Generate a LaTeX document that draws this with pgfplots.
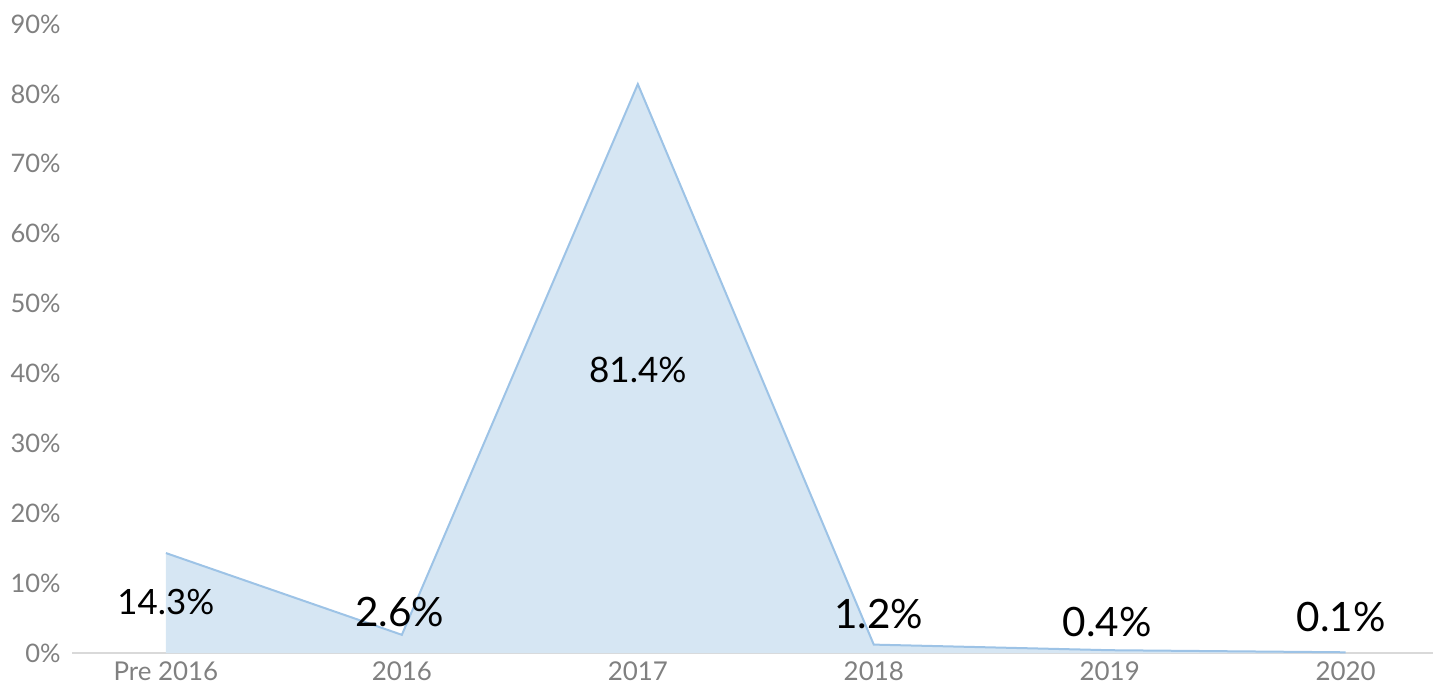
\documentclass[border=0pt]{standalone}
\usepackage{pgfplots}
\pgfplotsset{compat=1.18}
\usepackage{fontspec}
\setmainfont{Lato}
\usetikzlibrary{calc}
\definecolor{lineblue}{RGB}{157,195,230}
\definecolor{fillblue}{RGB}{214,230,243}
\definecolor{tickgray}{RGB}{128,128,128}
\definecolor{axisgray}{RGB}{217,217,217}
\pgfplotstableread{
x y
0 14.3
1 2.6
2 81.4
3 1.2
4 0.4
5 0.1
}\datatable
\begin{document}
\begin{tikzpicture}
\begin{axis}[
  name=ax,
  scale only axis,
  width=680.5bp, height=314.5bp,
  xmin=-0.398, xmax=5.37,
  ymin=0, ymax=90,
  axis x line*=bottom,
  axis y line*=left,
  axis on top=false,
  x axis line style={draw=axisgray, line width=1bp, -},
  y axis line style={draw=none},
  xtick={0,1,2,3,4,5},
  xticklabels={Pre 2016,2016,2017,2018,2019,2020},
  ytick={0,10,...,90},
  yticklabels={0\%,10\%,20\%,30\%,40\%,50\%,60\%,70\%,80\%,90\%},
  major tick length=0pt,
  tick style={draw=none},
  xticklabel style={font=\fontsize{13}{15}\selectfont, text=tickgray, yshift=-1bp},
  yticklabel style={font=\fontsize{12.8}{15}\selectfont, text=tickgray, inner sep=0pt, xshift=-5.5bp},
  clip=false,
]
\addplot[draw=none, fill=fillblue] table[x=x,y=y] {\datatable} \closedcycle;
\addplot[draw=lineblue, line width=1bp] table[x=x,y=y] {\datatable};
\node[font=\fontsize{17.5}{20}\selectfont] at (axis cs:0,7.3) {14.3\%};
\node[font=\fontsize{20.3}{23}\selectfont] at (axis cs:0.99,5.9) {2.6\%};
\node[font=\fontsize{17.6}{20}\selectfont] at (axis cs:2,40.5) {81.4\%};
\node[font=\fontsize{20.3}{23}\selectfont] at (axis cs:3.02,5.6) {1.2\%};
\node[font=\fontsize{20.3}{23}\selectfont] at (axis cs:3.99,4.4) {0.4\%};
\node[font=\fontsize{20.3}{23}\selectfont] at (axis cs:4.98,5.15) {0.1\%};
\end{axis}
\pgfresetboundingbox
\path ($(ax.south west)+(-36bp,-16.5bp)$) rectangle ($(ax.north east)+(0,12bp)$);
\end{tikzpicture}
\end{document}
